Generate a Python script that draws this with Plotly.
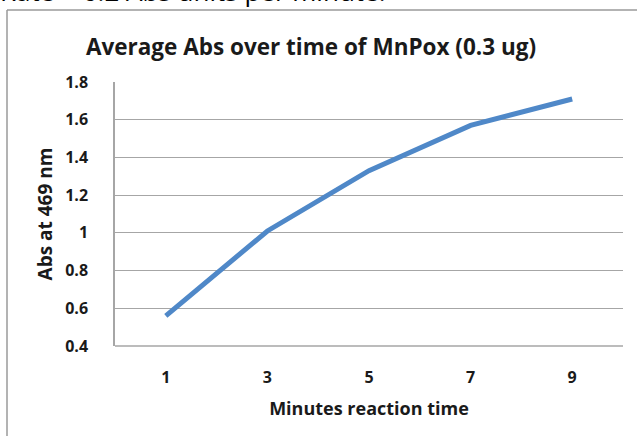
import plotly.graph_objects as go

minutes = ["1", "3", "5", "7", "9"]
abs_values = [0.56, 1.01, 1.33, 1.57, 1.71]
y_ticks = [0.4, 0.6, 0.8, 1.0, 1.2, 1.4, 1.6, 1.8]
y_tick_labels = ["0.4", "0.6", "0.8", "1", "1.2", "1.4", "1.6", "1.8"]

FONT = "Open Sans"
TXT = "#1a1a1a"
W, H = 637, 436
L, R, T, B = 115, 14, 82, 90
PW, PH = W - L - R, H - T - B


def px(x):
    return (x - L) / PW


def py(y):
    return (H - B - y) / PH


fig = go.Figure()
fig.add_trace(go.Scatter(
    x=minutes, y=abs_values, mode="lines",
    line=dict(color="#4F88C8", width=5),
    showlegend=False, hoverinfo="skip",
))

fig.update_layout(
    width=W, height=H,
    margin=dict(l=L, r=R, t=T, b=B),
    paper_bgcolor="white", plot_bgcolor="white",
    font=dict(family=FONT, color=TXT),
    title=dict(
        text="Average Abs over time of MnPox (0.3 ug)",
        x=311 / W, xanchor="center", y=1 - 47 / H, yanchor="middle",
        font=dict(size=22.5, family=FONT, color=TXT, weight="bold"),
    ),
    xaxis=dict(
        type="category", range=[-0.5, 4.5],
        showgrid=False, showline=False, zeroline=False,
        ticks="", tickfont=dict(size=16, family=FONT, color=TXT, weight="bold"),
        ticklabelstandoff=20,
        title=dict(text="Minutes reaction time", standoff=15,
                   font=dict(size=18, family=FONT, color=TXT, weight="bold")),
    ),
    yaxis=dict(
        range=[0.4, 1.8], tickvals=y_ticks, ticktext=y_tick_labels,
        showgrid=True, gridcolor="#a6a6a6", gridwidth=1,
        showline=True, linecolor="#a6a6a6", linewidth=1.5,
        zeroline=False, ticks="",
        tickfont=dict(size=16, family=FONT, color=TXT, weight="bold"),
        ticklabelstandoff=22,
        title=dict(text="Abs at 469 nm", standoff=8,
                   font=dict(size=19, family=FONT, color=TXT, weight="bold")),
    ),
    shapes=[
        dict(type="line", xref="paper", yref="paper",
             x0=px(7), x1=px(7), y0=py(10), y1=py(440),
             line=dict(color="#9a9a9a", width=1.5)),
        dict(type="line", xref="paper", yref="paper",
             x0=px(7), x1=px(640), y0=py(10), y1=py(10),
             line=dict(color="#9a9a9a", width=1.5)),
        dict(type="line", xref="paper", yref="paper",
             x0=0, x1=1, y0=0, y1=0,
             line=dict(color="#a6a6a6", width=1.5)),
    ],
    annotations=[
        dict(text="Rate = 0.2 Abs units per minute.", xref="paper", yref="paper",
             x=px(-2), y=py(11), xanchor="left", yanchor="bottom",
             showarrow=False, font=dict(size=26, family=FONT, color="#000000")),
    ],
)

fig.write_html("out.html", config={"displayModeBar": False},
               post_script="document.body.style.margin='0';")
